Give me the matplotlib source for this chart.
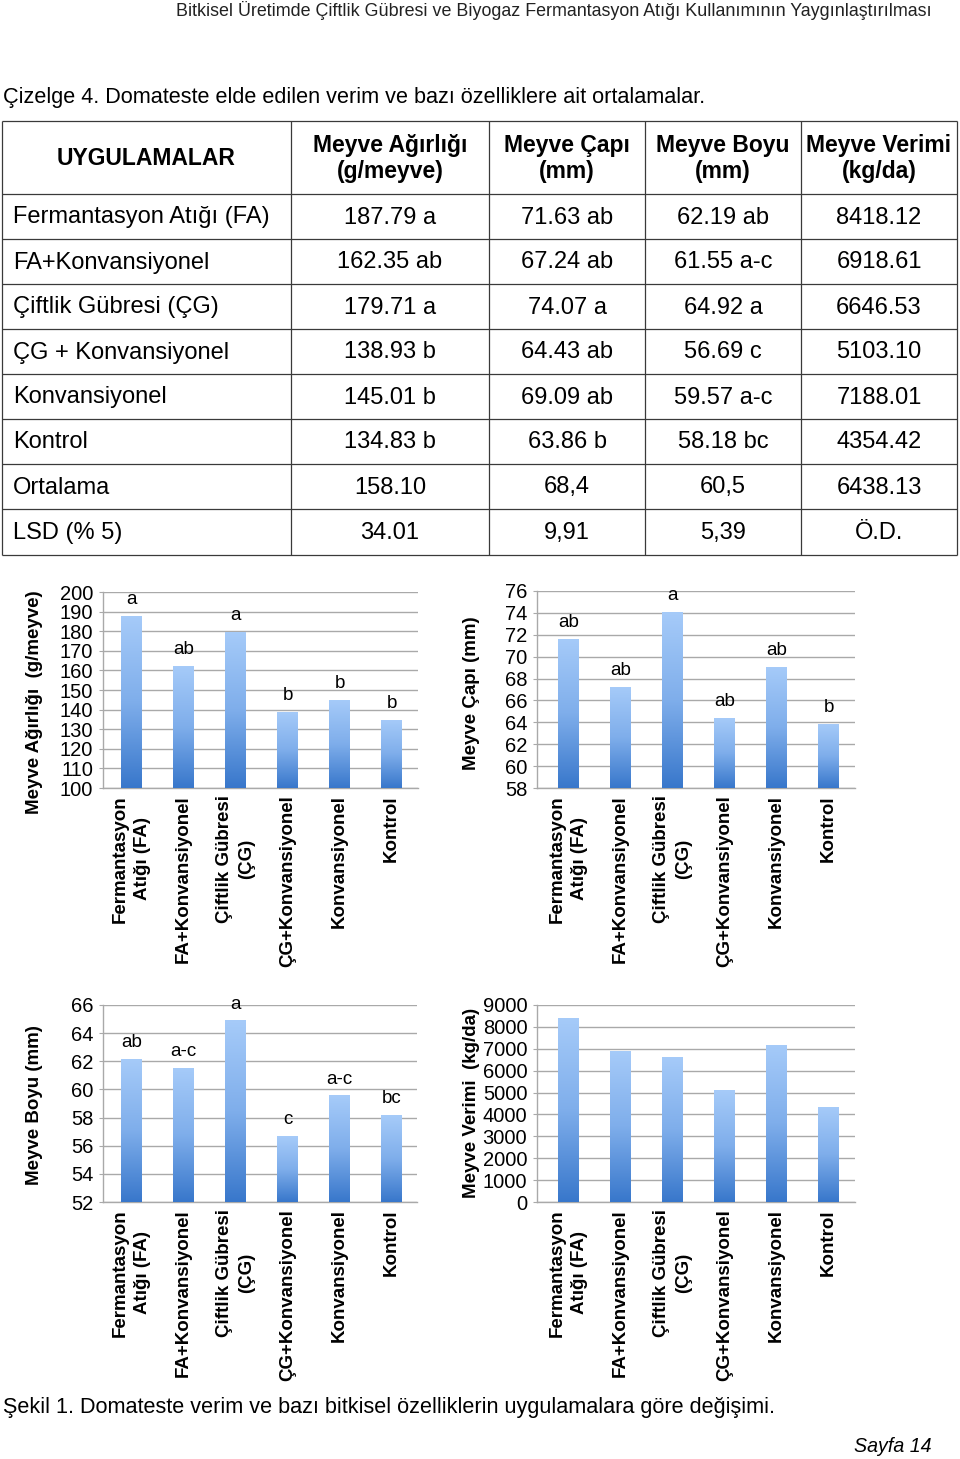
import numpy as np
import matplotlib
matplotlib.use('Agg')
import matplotlib.pyplot as plt
from matplotlib.colors import LinearSegmentedColormap
from matplotlib import font_manager as fm

W, H = 960, 1459
plt.rcParams['font.family'] = ['Liberation Sans', 'DejaVu Sans']

# ---------------- data ----------------
header_text = "Bitkisel Üretimde Çiftlik Gübresi ve Biyogaz Fermantasyon Atığı Kullanımının Yaygınlaştırılması"
table_caption = "Çizelge 4. Domateste elde edilen verim ve bazı özelliklere ait ortalamalar."
figure_caption = "Şekil 1. Domateste verim ve bazı bitkisel özelliklerin uygulamalara göre değişimi."
page_text = "Sayfa 14"

col_headers = ["UYGULAMALAR", "Meyve Ağırlığı\n(g/meyve)", "Meyve Çapı\n(mm)",
               "Meyve Boyu\n(mm)", "Meyve Verimi\n(kg/da)"]
treatments = ["Fermantasyon Atığı (FA)", "FA+Konvansiyonel", "Çiftlik Gübresi (ÇG)",
              "ÇG + Konvansiyonel", "Konvansiyonel", "Kontrol"]
categories = ["Fermantasyon\nAtığı (FA)", "FA+Konvansiyonel", "Çiftlik Gübresi\n(ÇG)",
              "ÇG+Konvansiyonel", "Konvansiyonel", "Kontrol"]

weight = [187.79, 162.35, 179.71, 138.93, 145.01, 134.83]
weight_letters = ["a", "ab", "a", "b", "b", "b"]
diameter = [71.63, 67.24, 74.07, 64.43, 69.09, 63.86]
diameter_letters = ["ab", "ab", "a", "ab", "ab", "b"]
length = [62.19, 61.55, 64.92, 56.69, 59.57, 58.18]
length_letters = ["ab", "a-c", "a", "c", "a-c", "bc"]
yield_vals = [8418.12, 6918.61, 6646.53, 5103.10, 7188.01, 4354.42]
yield_letters = ["", "", "", "", "", ""]

mean_row = ["Ortalama", "158.10", "68,4", "60,5", "6438.13"]
lsd_row = ["LSD (% 5)", "34.01", "9,91", "5,39", "Ö.D."]

# ---------------- figure ----------------
fig = plt.figure(figsize=(W / 100, H / 100), dpi=100)
fig.patch.set_facecolor('white')

ov = fig.add_axes([0, 0, 1, 1])
ov.set_xlim(0, W)
ov.set_ylim(H, 0)
ov.axis('off')

renderer = fig.canvas.get_renderer()


def narrow_family():
    try:
        fm.findfont(fm.FontProperties(family='Liberation Sans Narrow'), fallback_to_default=False)
        return ['Liberation Sans Narrow', 'Liberation Sans', 'DejaVu Sans']
    except Exception:
        return ['Liberation Sans', 'DejaVu Sans']


NARROW = narrow_family()


def fit_text(x, y, s, width, size, ha='left', **kw):
    t = ov.text(x, y, s, ha=ha, va='center', fontsize=size, family=NARROW, **kw)
    w = t.get_window_extent(renderer=renderer).width
    if w > 0:
        t.set_fontsize(size * width / w)
    return t


fit_text(932, 11, header_text, 754, 12, ha='right', color='#222222')
fit_text(3, 97, table_caption, 709, 14, ha='left', color='black')
fit_text(3, 1407, figure_caption, 777, 14, ha='left', color='black')
fit_text(932, 1447, page_text, 77, 13, ha='right', style='italic', color='black')

# ---------------- table ----------------
cols = [2, 291, 489, 645, 801, 957]
rows = [121, 194, 239, 284, 329, 374, 419, 464, 509, 555]
lc = '#3a3a3a'
for xv in cols:
    ov.plot([xv, xv], [rows[0], rows[-1]], color=lc, lw=0.9, solid_capstyle='butt')
for yv in rows:
    ov.plot([cols[0], cols[-1]], [yv, yv], color=lc, lw=0.9, solid_capstyle='butt')

centers = [(cols[i] + cols[i + 1]) / 2 for i in range(len(cols) - 1)]
hy = (rows[0] + rows[1]) / 2
for i, h in enumerate(col_headers):
    ov.text(centers[i], hy + 1, h, ha='center', va='center', fontsize=16.5,
            fontweight='bold', linespacing=1.15)

table_rows = []
for i in range(len(treatments)):
    table_rows.append([treatments[i],
                       f"{weight[i]:.2f} {weight_letters[i]}",
                       f"{diameter[i]:.2f} {diameter_letters[i]}",
                       f"{length[i]:.2f} {length_letters[i]}",
                       f"{yield_vals[i]:.2f}"])
table_rows.append(mean_row)
table_rows.append(lsd_row)

for r, row in enumerate(table_rows):
    yc = (rows[r + 1] + rows[r + 2]) / 2 + 1
    for c, val in enumerate(row):
        if c == 0:
            ov.text(13, yc, val, ha='left', va='center', fontsize=17)
        else:
            ov.text(centers[c], yc, val, ha='center', va='center', fontsize=17)

# ---------------- charts ----------------
cmap = LinearSegmentedColormap.from_list('barg', ['#3877CB', '#7FAEEB', '#A6CBF9'])
grad = np.linspace(0, 1, 256).reshape(-1, 1)
grid_c = '#A9A9A9'


def box(l, r, t, b):
    return [l / W, 1 - b / H, (r - l) / W, (b - t) / H]


def chart(rect, values, letters, ylim, yticks, xlim, ylabel, ylabel_xy):
    ax = fig.add_axes(box(*rect))
    ax.patch.set_alpha(0)
    x = np.arange(len(values))
    wbar = 0.39
    y0 = ylim[0]
    bars = ax.bar(x, np.array(values) - y0, bottom=y0, width=wbar,
                  color='none', edgecolor='none', zorder=3)
    for b, v in zip(bars, values):
        bx = b.get_x()
        im = ax.imshow(grad, extent=(bx, bx + wbar, y0, v), origin='lower',
                       cmap=cmap, aspect='auto', zorder=3, interpolation='bilinear')
        im.set_clip_path(b)
    for xi, v, l in zip(x, values, letters):
        if l:
            ax.annotate(l, (xi, v), xytext=(0, 5.5), textcoords='offset points',
                        ha='center', va='bottom', fontsize=13.5, zorder=4)
    ax.set_xlim(*xlim)
    ax.set_ylim(*ylim)
    ax.set_yticks(yticks)
    ax.set_yticklabels([str(t) for t in yticks])
    ax.yaxis.grid(True, color=grid_c, lw=1.0)
    ax.set_axisbelow(True)
    for s in ['top', 'right']:
        ax.spines[s].set_visible(False)
    for s in ['left', 'bottom']:
        ax.spines[s].set_color(grid_c)
        ax.spines[s].set_linewidth(1.0)
    ax.tick_params(axis='y', length=3, color=grid_c, labelsize=14.5, pad=4)
    ax.tick_params(axis='x', length=0, pad=5)
    ax.set_xticks(x)
    ax.set_xticklabels(categories, rotation=90, fontsize=13.5, fontweight='bold',
                       ha='center', va='top', multialignment='center', linespacing=1.35)
    ov.text(ylabel_xy[0], ylabel_xy[1], ylabel, rotation=90, ha='center', va='center',
            fontsize=13.5, fontweight='bold')
    return ax


chart((103, 418, 592, 788), weight, weight_letters, (100, 200), list(range(100, 201, 10)),
      ((103 - 131.5) / 52, (418 - 131.5) / 52), "Meyve Ağırlığı  (g/meyve)", (35, 702))
chart((537, 855, 591, 788), diameter, diameter_letters, (58, 76), list(range(58, 77, 2)),
      ((537 - 568.5) / 52, (855 - 568.5) / 52), "Meyve Çapı (mm)", (471, 693))
chart((103, 417, 1005, 1202), length, length_letters, (52, 66), list(range(52, 67, 2)),
      ((103 - 131.5) / 52, (417 - 131.5) / 52), "Meyve Boyu (mm)", (35, 1105))
chart((537, 855, 1005, 1202), yield_vals, yield_letters, (0, 9000), list(range(0, 9001, 1000)),
      ((537 - 568.5) / 52, (855 - 568.5) / 52), "Meyve Verimi  (kg/da)", (471, 1103))

fig.savefig('out.png', dpi=100, facecolor='white')
